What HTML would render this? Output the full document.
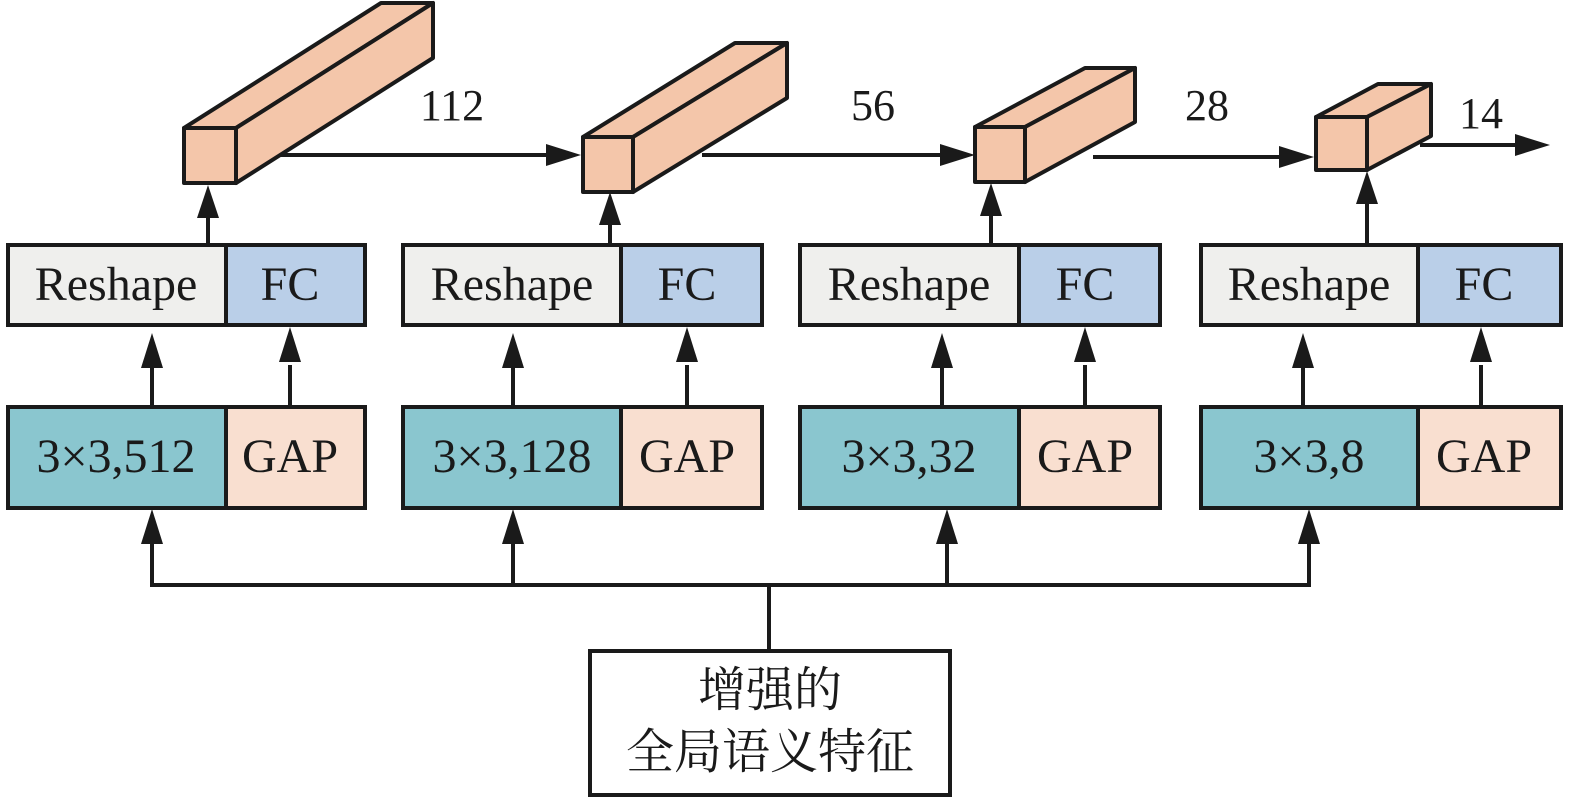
<!DOCTYPE html>
<html><head><meta charset="utf-8"><style>
html,body{margin:0;padding:0;background:#fff;}
svg{display:block;}
text{font-family:"Liberation Serif","Noto Serif CJK SC",serif;fill:#1a1a1a;}
</style></head><body>
<svg width="1575" height="800" viewBox="0 0 1575 800" xmlns="http://www.w3.org/2000/svg">
<defs>
<marker id="ah" markerWidth="10" markerHeight="10" refX="9" refY="5" orient="auto" markerUnits="userSpaceOnUse" viewBox="0 0 10 10">
</marker>
</defs>
<g stroke="#1a1a1a" stroke-width="4" stroke-linejoin="round" fill="#f4c6aa">
<!-- cube 1 -->
<polygon points="184,128 381,3 433,3 236,128"/>
<polygon points="236,128 433,3 433,58 236,183"/>
<rect x="184" y="128" width="52" height="55"/>
<!-- cube 2 -->
<polygon points="583,137 735,43 787,43 633,137"/>
<polygon points="633,137 787,43 787,98 633,192"/>
<rect x="583" y="137" width="50" height="55"/>
<!-- cube 3 -->
<polygon points="975,127 1085,68 1135,68 1025,127"/>
<polygon points="1025,127 1135,68 1135,122 1025,182"/>
<rect x="975" y="127" width="50" height="55"/>
<!-- cube 4 -->
<polygon points="1316,117 1378,84 1431,84 1367,117"/>
<polygon points="1367,117 1431,84 1431,136 1367,170"/>
<rect x="1316" y="117" width="51" height="53"/>
</g>
<g stroke="#1a1a1a" stroke-width="4" fill="none">
<line x1="280" y1="155" x2="550" y2="155"/>
<line x1="702" y1="155" x2="945" y2="155"/>
<line x1="1093" y1="157" x2="1283" y2="157"/>
<line x1="1420" y1="145" x2="1518" y2="145"/>
</g>
<g fill="#1a1a1a">
<polygon points="581,155 546,144 546,166"/>
<polygon points="975,155 940,144 940,166"/>
<polygon points="1314,157 1279,146 1279,168"/>
<polygon points="1550,145 1515,134 1515,156"/>
</g>
<g font-size="44">
<text x="452" y="120" text-anchor="middle">112</text>
<text x="873" y="120" text-anchor="middle">56</text>
<text x="1207" y="120" text-anchor="middle">28</text>
<text x="1481" y="128" text-anchor="middle">14</text>
</g>
<!-- boxes -->
<g stroke="#1a1a1a" stroke-width="4">
<rect x="8" y="245" width="218" height="80" fill="#efefed"/><rect x="226" y="245" width="139" height="80" fill="#bacfe8"/>
<rect x="403" y="245" width="218" height="80" fill="#efefed"/><rect x="621" y="245" width="141" height="80" fill="#bacfe8"/>
<rect x="800" y="245" width="219" height="80" fill="#efefed"/><rect x="1019" y="245" width="141" height="80" fill="#bacfe8"/>
<rect x="1201" y="245" width="217" height="80" fill="#efefed"/><rect x="1418" y="245" width="143" height="80" fill="#bacfe8"/>
<rect x="8" y="407" width="218" height="101" fill="#8ac6cf"/><rect x="226" y="407" width="139" height="101" fill="#f9dfd0"/>
<rect x="403" y="407" width="218" height="101" fill="#8ac6cf"/><rect x="621" y="407" width="141" height="101" fill="#f9dfd0"/>
<rect x="800" y="407" width="219" height="101" fill="#8ac6cf"/><rect x="1019" y="407" width="141" height="101" fill="#f9dfd0"/>
<rect x="1201" y="407" width="217" height="101" fill="#8ac6cf"/><rect x="1418" y="407" width="143" height="101" fill="#f9dfd0"/>
<rect x="590" y="651" width="360" height="144" fill="#fff"/>
</g>
<g font-size="48" text-anchor="middle">
<text x="116" y="300">Reshape</text><text x="290" y="300">FC</text>
<text x="512" y="300">Reshape</text><text x="687" y="300">FC</text>
<text x="909" y="300">Reshape</text><text x="1085" y="300">FC</text>
<text x="1309" y="300">Reshape</text><text x="1484" y="300">FC</text>
<text x="116" y="472">3×3,512</text><text x="290" y="472">GAP</text>
<text x="512" y="472">3×3,128</text><text x="687" y="472">GAP</text>
<text x="909" y="472">3×3,32</text><text x="1085" y="472">GAP</text>
<text x="1309" y="472">3×3,8</text><text x="1484" y="472">GAP</text>
</g>
<g font-size="48" text-anchor="middle">
<text x="770" y="706">增强的</text>
<text x="770" y="768">全局语义特征</text>
</g>
<!-- connectors -->
<g stroke="#1a1a1a" stroke-width="4" fill="none">
<line x1="208" y1="245" x2="208" y2="210"/>
<line x1="610" y1="245" x2="610" y2="215"/>
<line x1="991" y1="245" x2="991" y2="210"/>
<line x1="1367" y1="245" x2="1367" y2="200"/>
<line x1="152" y1="407" x2="152" y2="365"/><line x1="290" y1="407" x2="290" y2="365"/>
<line x1="513" y1="407" x2="513" y2="365"/><line x1="687" y1="407" x2="687" y2="365"/>
<line x1="942" y1="407" x2="942" y2="365"/><line x1="1085" y1="407" x2="1085" y2="365"/>
<line x1="1303" y1="407" x2="1303" y2="365"/><line x1="1481" y1="407" x2="1481" y2="365"/>
<polyline points="152,540 152,585 1309,585 1309,540"/>
<line x1="513" y1="585" x2="513" y2="540"/>
<line x1="947" y1="585" x2="947" y2="540"/>
<line x1="769" y1="585" x2="769" y2="651"/>
</g>
<g fill="#1a1a1a">
<polygon points="208,185 197,218 219,218"/>
<polygon points="610,192 599,225 621,225"/>
<polygon points="991,183 980,216 1002,216"/>
<polygon points="1367,171 1356,204 1378,204"/>
<polygon points="152,333 141,368 163,368"/><polygon points="290,327 279,362 301,362"/>
<polygon points="513,333 502,368 524,368"/><polygon points="687,327 676,362 698,362"/>
<polygon points="942,333 931,368 953,368"/><polygon points="1085,327 1074,362 1096,362"/>
<polygon points="1303,333 1292,368 1314,368"/><polygon points="1481,327 1470,362 1492,362"/>
<polygon points="152,509 141,544 163,544"/>
<polygon points="513,509 502,544 524,544"/>
<polygon points="947,509 936,544 958,544"/>
<polygon points="1309,509 1298,544 1320,544"/>
</g>
</svg>
</body></html>
